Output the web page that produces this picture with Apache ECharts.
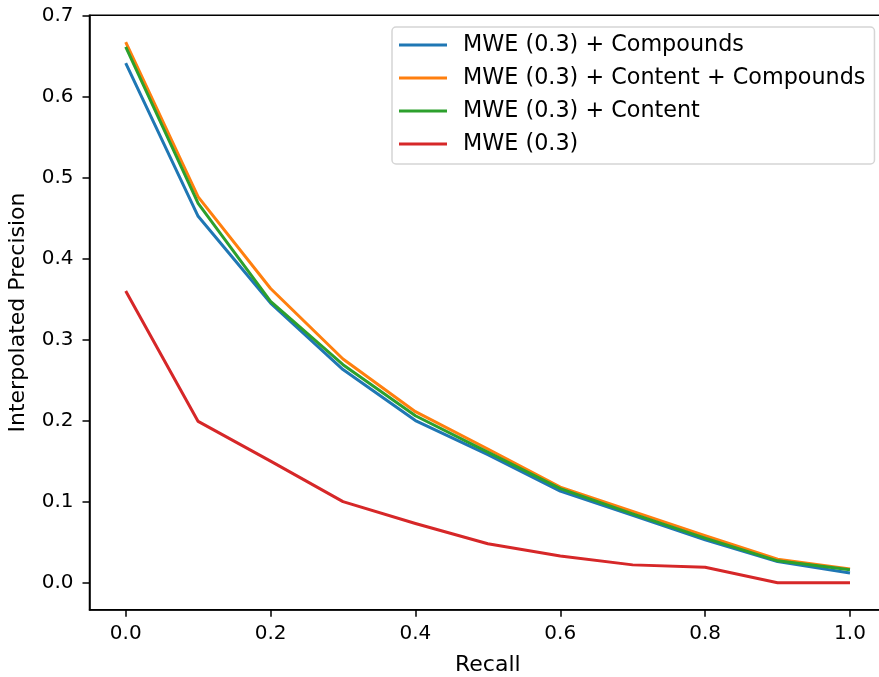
<!DOCTYPE html>
<html>
<head>
<meta charset="utf-8">
<script src="https://cdn.jsdelivr.net/npm/echarts@6/dist/echarts.min.js"></script>
<style>
html,body{margin:0;padding:0;background:#fff;}
#chart{width:879px;height:677px;}
</style>
</head>
<body>
<div id="chart"></div>
<script>
var recall = [0.0, 0.1, 0.2, 0.3, 0.4, 0.5, 0.6, 0.7, 0.8, 0.9, 1.0];
var seriesNames = ['MWE (0.3) + Compounds', 'MWE (0.3) + Content + Compounds', 'MWE (0.3) + Content', 'MWE (0.3)'];
var compounds = [0.641, 0.452, 0.345, 0.263, 0.200, 0.158, 0.113, 0.083, 0.053, 0.026, 0.012];
var contentCompounds = [0.667, 0.476, 0.363, 0.276, 0.211, 0.165, 0.118, 0.088, 0.058, 0.029, 0.017];
var content = [0.661, 0.468, 0.347, 0.269, 0.206, 0.161, 0.116, 0.085, 0.055, 0.027, 0.016];
var mwe = [0.360, 0.199, 0.150, 0.100, 0.073, 0.048, 0.033, 0.022, 0.019, 0.000, 0.000];
var xTicks = [0.0, 0.2, 0.4, 0.6, 0.8, 1.0];
var yTicks = [0.0, 0.1, 0.2, 0.3, 0.4, 0.5, 0.6, 0.7];
var colors = ['#1f77b4', '#ff7f0e', '#2ca02c', '#d62728'];

var allValues = [compounds, contentCompounds, content, mwe];
function pairs(vals) { return recall.map(function (r, i) { return [r, vals[i]]; }); }

var chart = echarts.init(document.getElementById('chart'), null, {renderer: 'canvas'});
var font = 'DejaVu Sans';
var option = {
  animation: false,
  backgroundColor: '#ffffff',
  grid: {
    left: 89.5, top: 15.3, width: 796.7, height: 594.4,
    containLabel: false, outerBoundsMode: 'none',
    show: true, borderColor: '#000', borderWidth: 1.5, backgroundColor: 'transparent'
  },
  legend: {
    orient: 'vertical',
    left: 392, top: 27,
    data: seriesNames,
    icon: 'rect',
    itemWidth: 48, itemHeight: 3,
    itemGap: 11,
    padding: [7, 9, 9, 7],
    borderColor: '#d5d5d5', borderWidth: 1.5, borderRadius: 4,
    backgroundColor: 'rgba(255,255,255,0.8)',
    textStyle: {fontFamily: font, fontSize: 22.3, color: '#000', lineHeight: 22, padding: [0, 0, 0, 11]}
  },
  xAxis: {
    type: 'value', min: -0.05, max: 1.05,
    name: 'Recall', nameLocation: 'middle', nameGap: 45,
    nameTextStyle: {fontFamily: font, fontSize: 22, color: '#000'},
    splitLine: {show: false},
    axisLine: {show: true, onZero: false, lineStyle: {color: '#000', width: 1.5}},
    axisTick: {show: true, length: 7, lineStyle: {color: '#000', width: 1.5}, customValues: xTicks},
    axisLabel: {fontFamily: font, fontSize: 20, color: '#000', margin: 14, customValues: xTicks,
      formatter: function (v) { return v.toFixed(1); }}
  },
  yAxis: {
    type: 'value', min: -0.0333, max: 0.7,
    name: 'Interpolated Precision', nameLocation: 'middle', nameGap: 60,
    nameTextStyle: {fontFamily: font, fontSize: 22, color: '#000'},
    splitLine: {show: false},
    axisLine: {show: true, onZero: false, lineStyle: {color: '#000', width: 1.5}},
    axisTick: {show: true, length: 7, lineStyle: {color: '#000', width: 1.5}, customValues: yTicks},
    axisLabel: {fontFamily: font, fontSize: 20, color: '#000', margin: 16, customValues: yTicks,
      formatter: function (v) { return v.toFixed(1); }}
  },
  series: seriesNames.map(function (n, i) {
    return {
      name: n, type: 'line', data: pairs(allValues[i]),
      showSymbol: false, symbol: 'none',
      itemStyle: {color: colors[i]},
      lineStyle: {color: colors[i], width: 3, join: 'round', cap: 'butt'}
    };
  })
};
chart.setOption(option);
</script>
</body>
</html>
